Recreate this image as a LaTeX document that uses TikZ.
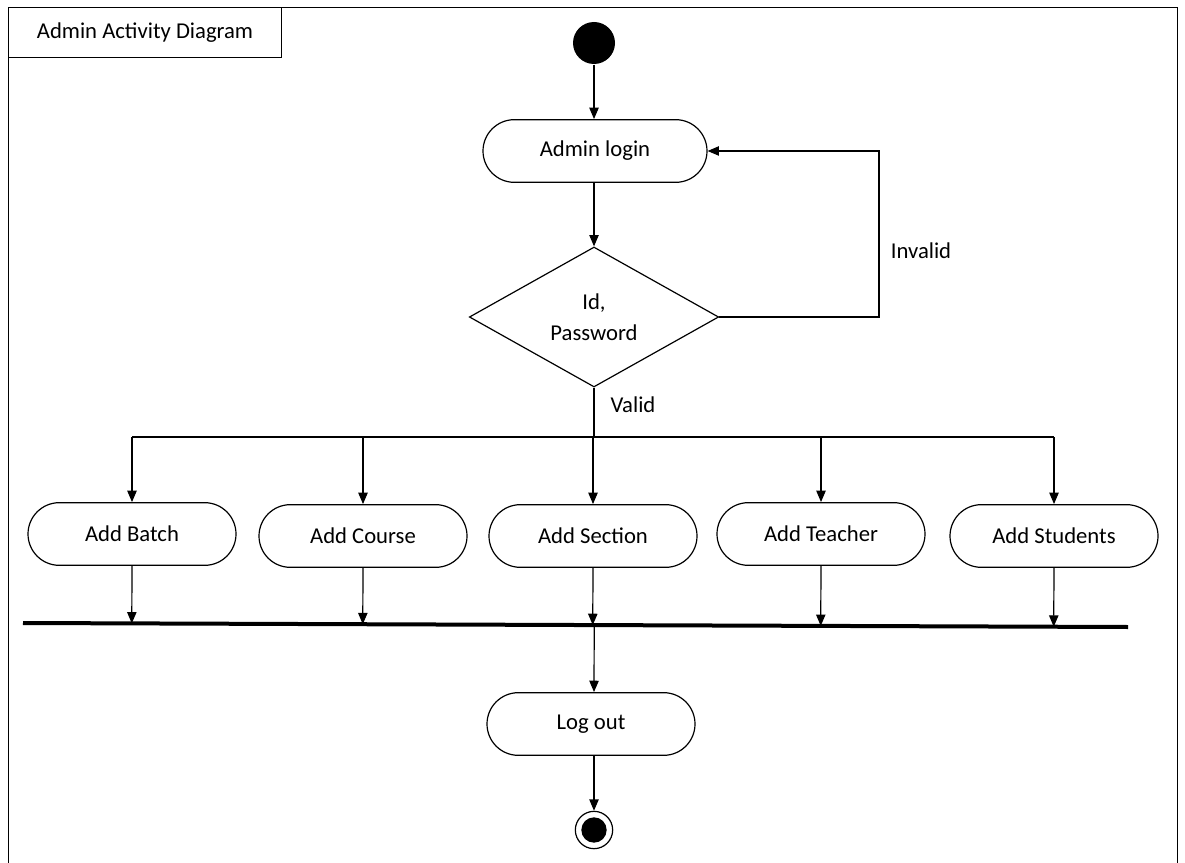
\documentclass[tikz,border=0pt]{standalone}
\usepackage{fontspec}
\setmainfont{Carlito}
\usetikzlibrary{shapes.misc,shapes.geometric,arrows.meta,calc}
\begin{document}
\begin{tikzpicture}[x=0.75pt,y=-0.75pt,
  line width=0.9pt,
  every node/.style={font=\fontsize{17}{23}\selectfont},
  arr/.style={-{Triangle[width=7pt,length=8.5pt]}},
  activity/.style={draw,rounded rectangle,minimum width=156pt,minimum height=47pt,inner sep=0pt},
  decision/.style={draw,diamond,minimum width=187pt,minimum height=105pt,inner sep=0pt,align=center},
  initial/.style={circle,fill=black,minimum size=31.5pt,inner sep=0pt},
  finalout/.style={circle,draw,minimum size=28pt,inner sep=0pt},
  finalin/.style={circle,fill=black,minimum size=19pt,inner sep=0pt},
  label/.style={inner sep=0pt}]
\useasboundingbox (0,0) rectangle (1185,863);
\fill[white] (0,0) rectangle (1185,863);

% frame and title tab
\draw[line width=0.75pt] (8,863) -- (8,8) -- (1177,8) -- (1177,863);
\draw[line width=0.75pt] (8,58) -- (281,58) -- (281,8);
\node[label] (title) at (145,33) {Admin Activity Diagram};

% nodes
\node[initial] (start) at (594,43) {};
\node[activity,minimum width=168pt] (login) at (595,151) {Admin login};
\node[decision] (check) at (594,317) {\rule{0pt}{8pt}Id,\\Password};
\node[label] (invalid) at (921,251) {Invalid};
\node[label] (valid) at (633,405) {Valid};

\node[activity] (batch) at (132,534) {Add Batch};
\node[activity] (course) at (363,536) {Add Course};
\node[activity] (section) at (593,536) {Add Section};
\node[activity] (teacher) at (821,534) {Add Teacher};
\node[activity] (students) at (1054,536) {Add Students};

\node[activity] (logout) at (591,724) {Log out};
\node[finalout] (endo) at (594,830) {};
\node[finalin] (endi) at (endo) {};

% flow
\draw[arr] (start) -- (login.north -| start);
\draw[arr] (login.south -| start) -- (check.north);
\draw[arr] (check.east) -- (879,317) |- (login.east);

\coordinate (split) at (594,437);
\draw (check.south) -- (split);
\draw (batch.north |- split) -- (students.north |- split);
\foreach \n in {batch,course,section,teacher,students}
  \draw[arr] (\n.north |- split) -- (\n.north);

% join bar
\coordinate (barL) at (23,623);
\coordinate (barR) at (1128,627);
\draw[line width=3pt] (barL) -- (barR);
\foreach \n in {batch,course,section,teacher,students}
  \draw[arr] (\n.south) -- ($(barL)!(\n.south)!(barR)$);
\draw[arr] ($(barL)!(594,700)!(barR)$) -- (logout.north -| 594,0);
\draw[arr] (logout.south -| 594,0) -- (endo.north);
\end{tikzpicture}
\end{document}
